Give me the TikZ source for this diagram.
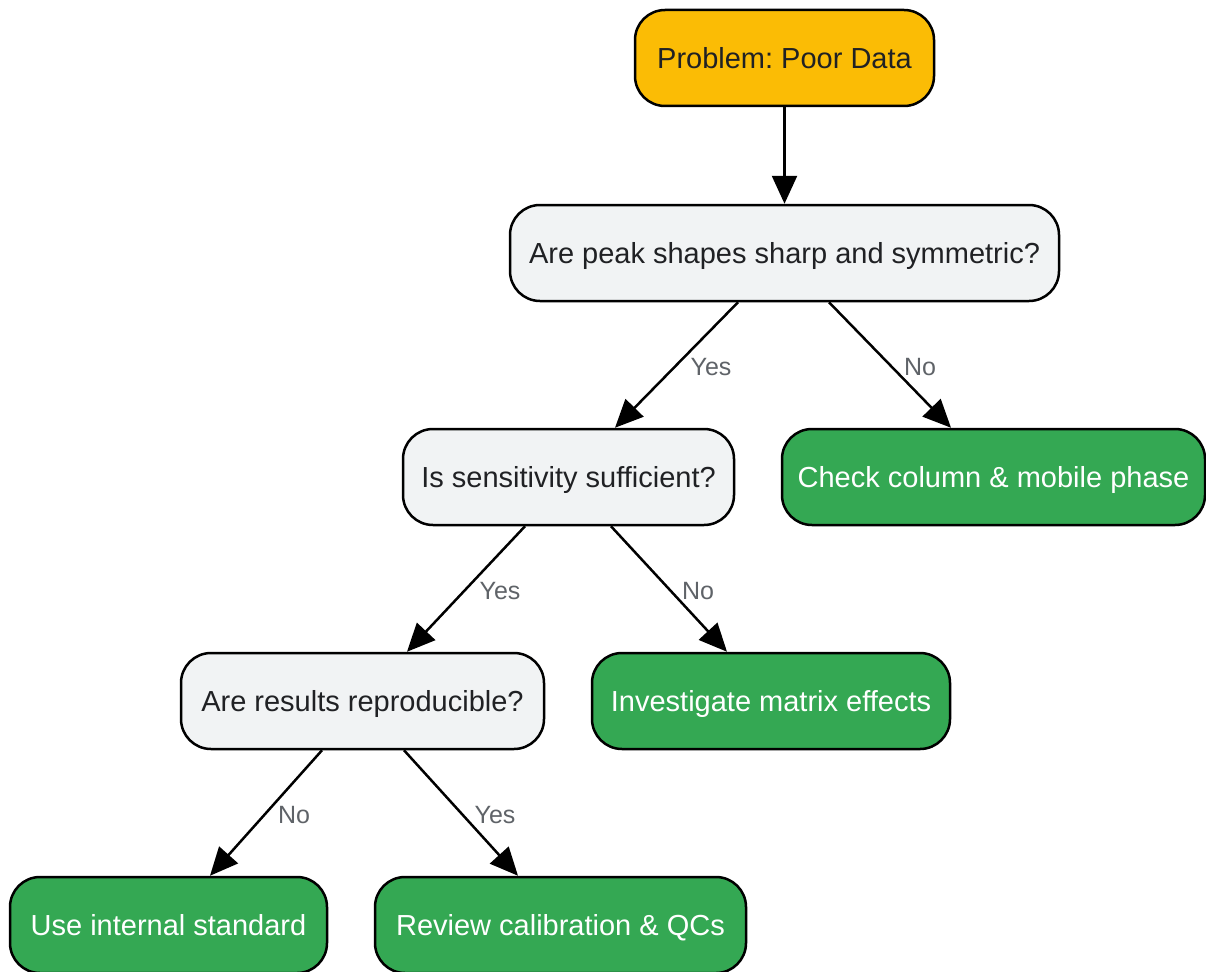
\documentclass[tikz,border=0pt]{standalone}
\usepackage{fontspec}
\setmainfont{Liberation Sans}
\usetikzlibrary{arrows.meta}
\definecolor{orangefill}{HTML}{FBBC05}
\definecolor{grayfill}{HTML}{F1F3F4}
\definecolor{greenfill}{HTML}{34A853}
\definecolor{darktext}{HTML}{202124}
\definecolor{labelgray}{HTML}{5F6368}
\frenchspacing
\tikzset{
  box/.style={draw=black, line width=2.5pt, rounded corners=30pt, minimum height=96pt, inner sep=0pt,
    text height=20.8pt, text depth=0pt, font=\fontsize{29}{34}\selectfont},
  startbox/.style={box, fill=orangefill, text=darktext},
  askbox/.style={box, fill=grayfill, text=darktext},
  endbox/.style={box, fill=greenfill, text=white},
  arr/.style={draw=black, line width=2.5pt, -{Triangle[length=28pt,width=25pt]}},
  lbl/.style={text=labelgray, font=\fontsize{25}{30}\selectfont, inner sep=0pt, text height=18pt, text depth=0pt}
}
\begin{document}
\begin{tikzpicture}[x=1pt,y=-1pt]
\useasboundingbox (0,0) rectangle (1206,971);
\node[startbox, minimum width=299pt] (top) at (784.5,58) {Problem: Poor Data};
\node[askbox, minimum width=549pt] (q1) at (784.5,253) {Are peak shapes sharp and symmetric?};
\node[askbox, minimum width=331pt] (q2) at (568.5,477) {Is sensitivity sufficient?};
\node[endbox, minimum width=423pt] (check) at (993.5,477) {Check column \& mobile phase};
\node[askbox, minimum width=363pt] (q3) at (362.5,701) {Are results reproducible?};
\node[endbox, minimum width=358pt] (matrix) at (771,701) {Investigate matrix effects};
\node[endbox, minimum width=317pt] (internal) at (168.5,925) {Use internal standard};
\node[endbox, minimum width=371pt] (review) at (560.5,925) {Review calibration \& QCs};

\draw[arr] (top.south) -- (q1.north);
\draw[arr] ([xshift=-46.5pt]q1.south) -- ([xshift=46.5pt]q2.north);
\draw[arr] ([xshift=44.5pt]q1.south) -- ([xshift=-42.5pt]check.north);
\draw[arr] ([xshift=-43.5pt]q2.south) -- ([xshift=44.5pt]q3.north);
\draw[arr] ([xshift=42.5pt]q2.south) -- ([xshift=-44pt]matrix.north);
\draw[arr] ([xshift=-40.5pt]q3.south) -- ([xshift=41.5pt]internal.north);
\draw[arr] ([xshift=41.5pt]q3.south) -- ([xshift=-42.5pt]review.north);

\node[lbl] (l1) at (711,366) {Yes};
\node[lbl] (l2) at (920,366) {No};
\node[lbl] (l3) at (500,590) {Yes};
\node[lbl] (l4) at (698,590) {No};
\node[lbl] (l5) at (294,814) {No};
\node[lbl] (l6) at (495,814) {Yes};
\end{tikzpicture}
\end{document}
